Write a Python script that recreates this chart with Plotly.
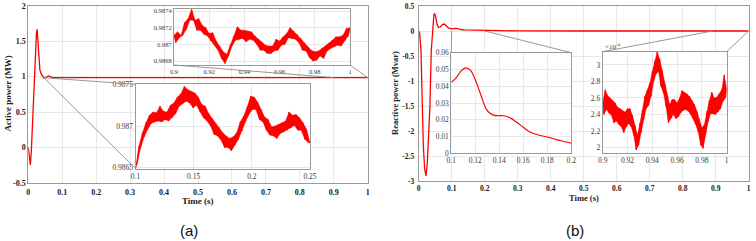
import plotly.graph_objects as go

W, H = 756, 241

# ---------------- data ----------------
# Panel (a): active power (MW), main view
t_a = [0, 0.003, 0.006, 0.009, 0.012, 0.015, 0.018, 0.021, 0.024, 0.026, 0.028,
       0.031, 0.034, 0.038, 0.042, 0.046, 0.05, 0.055, 0.06, 0.065, 0.07, 0.08,
       0.1, 0.25, 0.9, 1.0]
p_a = [0, -0.15, -0.25, -0.05, 0.3, 0.58, 0.95, 1.35, 1.62, 1.67, 1.48,
       1.25, 1.1, 1.04, 1.0, 0.98, 0.985, 1.0, 1.01, 1.0, 0.99, 0.987,
       0.9865, 0.9868, 0.9871, 0.9872]

# Panel (a) zoom 0.9-1 s
t_a_z1 = [round(0.9 + 0.001 * k, 4) for k in range(101)]
p_a_z1 = [0.98711, 0.98702, 0.98715, 0.98708, 0.98711, 0.98711, 0.98726, 0.98718, 0.98731, 0.98729,
          0.98742, 0.98729, 0.98729, 0.98717, 0.98731, 0.98717, 0.98723, 0.98712, 0.98720, 0.98710,
          0.98713, 0.98704, 0.98714, 0.98699, 0.98704, 0.98693, 0.98698, 0.98683, 0.98691, 0.98677,
          0.98688, 0.98686, 0.98700, 0.98698, 0.98710, 0.98705, 0.98721, 0.98706, 0.98717, 0.98707,
          0.98717, 0.98703, 0.98716, 0.98706, 0.98715, 0.98705, 0.98710, 0.98700, 0.98706, 0.98693,
          0.98702, 0.98693, 0.98699, 0.98689, 0.98698, 0.98689, 0.98698, 0.98692, 0.98706, 0.98693,
          0.98704, 0.98699, 0.98709, 0.98700, 0.98713, 0.98708, 0.98720, 0.98707, 0.98716, 0.98706,
          0.98712, 0.98702, 0.98707, 0.98693, 0.98702, 0.98692, 0.98697, 0.98684, 0.98693, 0.98680,
          0.98691, 0.98681, 0.98692, 0.98686, 0.98695, 0.98683, 0.98698, 0.98692, 0.98701, 0.98695,
          0.98705, 0.98697, 0.98709, 0.98699, 0.98709, 0.98698, 0.98711, 0.98704, 0.98719, 0.98710,
          0.98720]

# Panel (a) zoom 0.1-0.25 s
t_a_z2 = [round(0.1 + 0.0015 * k, 5) for k in range(101)]
p_a_z2 = [0.98649, 0.98655, 0.98676, 0.98674, 0.98692, 0.98687, 0.98704, 0.98696, 0.98713, 0.98703,
          0.98717, 0.98705, 0.98716, 0.98706, 0.98724, 0.98705, 0.98718, 0.98708, 0.98717, 0.98706,
          0.98725, 0.98710, 0.98728, 0.98715, 0.98735, 0.98724, 0.98739, 0.98727, 0.98748, 0.98730,
          0.98744, 0.98728, 0.98742, 0.98722, 0.98740, 0.98725, 0.98735, 0.98717, 0.98726, 0.98710,
          0.98724, 0.98706, 0.98715, 0.98700, 0.98709, 0.98690, 0.98703, 0.98688, 0.98698, 0.98683,
          0.98692, 0.98674, 0.98688, 0.98674, 0.98685, 0.98670, 0.98687, 0.98677, 0.98692, 0.98684,
          0.98705, 0.98694, 0.98712, 0.98705, 0.98723, 0.98714, 0.98736, 0.98720, 0.98735, 0.98720,
          0.98729, 0.98708, 0.98720, 0.98705, 0.98711, 0.98695, 0.98708, 0.98689, 0.98699, 0.98688,
          0.98700, 0.98685, 0.98702, 0.98691, 0.98704, 0.98693, 0.98706, 0.98695, 0.98717, 0.98698,
          0.98713, 0.98701, 0.98714, 0.98695, 0.98710, 0.98695, 0.98704, 0.98684, 0.98696, 0.98680,
          0.98680]

# Panel (b): reactive power (Mvar), main view
t_b = [0, 0.003, 0.007, 0.010, 0.014, 0.018, 0.022, 0.026, 0.030, 0.034, 0.038,
       0.042, 0.046, 0.048, 0.051, 0.055, 0.060, 0.065, 0.072, 0.078, 0.084, 0.090,
       0.1, 0.112, 0.121, 0.13, 0.14, 0.15, 0.165, 0.18, 0.2, 0.3, 0.5, 1.0]
q_b = [0, -0.05, -0.4, -1.6, -2.3, -2.75, -2.9, -2.65, -2.2, -1.5, -0.4,
       0.1, 0.32, 0.35, 0.3, 0.15, 0.07, 0.08, 0.13, 0.14, 0.1, 0.06,
       0.042, 0.051, 0.042, 0.025, 0.022, 0.021, 0.013, 0.009, 0.006, 0.002, 0.0005, 0.00026]

# Panel (b) zoom 0.1-0.2 s
t_b_z1 = [0.1, 0.104, 0.108, 0.112, 0.116, 0.121, 0.125, 0.129, 0.132, 0.135, 0.139,
          0.143, 0.148, 0.154, 0.16, 0.165, 0.17, 0.176, 0.182, 0.187, 0.193, 0.2]
q_b_z1 = [0.0423, 0.0450, 0.0490, 0.0510, 0.0495, 0.0420, 0.0340, 0.0265, 0.0240, 0.0228, 0.0224,
          0.0224, 0.0215, 0.0188, 0.0155, 0.0129, 0.0115, 0.0103, 0.0094, 0.0083, 0.0072, 0.0060]

# Panel (b) zoom 0.9-1 s (x 1e-4 Mvar)
t_b_z2 = [round(0.9 + 0.001 * k, 4) for k in range(101)]
q_b_z2_e4 = [2.54, 2.40, 2.70, 2.46, 2.63, 2.42, 2.60, 2.39, 2.57, 2.30,
             2.54, 2.32, 2.49, 2.28, 2.47, 2.25, 2.44, 2.18, 2.43, 2.25,
             2.47, 2.29, 2.47, 2.25, 2.39, 2.15, 2.27, 1.97, 2.15, 2.03,
             2.29, 2.18, 2.45, 2.34, 2.62, 2.47, 2.70, 2.51, 2.78, 2.62,
             2.92, 2.79, 3.05, 2.89, 3.16, 2.92, 3.07, 2.74, 2.93, 2.66,
             2.78, 2.50, 2.62, 2.30, 2.52, 2.35, 2.58, 2.40, 2.58, 2.35,
             2.54, 2.37, 2.60, 2.42, 2.69, 2.45, 2.67, 2.46, 2.65, 2.44,
             2.62, 2.40, 2.57, 2.35, 2.52, 2.28, 2.44, 2.19, 2.34, 2.03,
             2.24, 1.99, 2.28, 2.16, 2.44, 2.31, 2.57, 2.41, 2.67, 2.41,
             2.60, 2.40, 2.61, 2.43, 2.65, 2.47, 2.70, 2.56, 2.88, 2.60,
             2.71]

# ---------------- layout helpers ----------------
def dx(p0, p1):
    return [p0 / W, p1 / W]

def dy(top, bottom):
    return [1 - bottom / H, 1 - top / H]

# pixel boxes (left, right, top, bottom)
A_MAIN = (28.3, 367.7, 6, 182.7)
B_MAIN = (418.7, 748.7, 6, 181)
A_Z1 = (174, 350, 9, 65)
A_Z2 = (135.5, 310, 84.3, 168.5)
B_Z1 = (451.3, 571.3, 52.7, 153.3)
B_Z2 = (602.7, 726.7, 51.7, 153.3)

A_XR, A_YR = [0, 1], [-0.5, 2]
B_XR, B_YR = [0, 1], [-3, 0.5]

RED = "#ff0000"
SERIF = "Liberation Serif"
GRID = "#e8e8e8"
LINE = "#9a9a9a"

fig = go.Figure()
fig.add_trace(go.Scatter(x=t_a, y=p_a, mode="lines", line=dict(color=RED, width=1.3),
                         xaxis="x", yaxis="y"))
fig.add_trace(go.Scatter(x=t_b, y=q_b, mode="lines", line=dict(color=RED, width=1.3),
                         xaxis="x2", yaxis="y2"))


def noisy(t, v, xa, ya):
    # band between the alternating high (even) and low (odd) samples, plus the raw trace
    hi_t, hi_v = t[0::2], v[0::2]
    lo_t, lo_v = t[1::2], v[1::2]
    fig.add_trace(go.Scatter(x=hi_t + lo_t[::-1], y=hi_v + lo_v[::-1], mode="lines",
                             fill="toself", fillcolor=RED, line=dict(color=RED, width=0.4),
                             xaxis=xa, yaxis=ya, hoverinfo="skip"))
    fig.add_trace(go.Scatter(x=t, y=v, mode="lines", line=dict(color=RED, width=0.8),
                             xaxis=xa, yaxis=ya))

noisy(t_a_z1, p_a_z1, "x3", "y3")
noisy(t_a_z2, p_a_z2, "x4", "y4")
fig.add_trace(go.Scatter(x=t_b_z1, y=q_b_z1, mode="lines", line=dict(color=RED, width=1.2, shape="spline"),
                         xaxis="x5", yaxis="y5"))
noisy(t_b_z2, q_b_z2_e4, "x6", "y6")


def ax(domain, rng, size, bold, **kw):
    d = dict(domain=domain, range=rng, showgrid=True, gridcolor=GRID, gridwidth=0.7,
             showline=True, linecolor=LINE, linewidth=1, mirror=True, zeroline=False,
             ticks="",
             tickfont=dict(family=SERIF, size=size, color="#1a1a1a" if bold else "#3a3a3a",
                           weight=700 if bold else 400))
    d.update(kw)
    return d


def fmt(v):
    s = ("%.4f" % v).rstrip("0").rstrip(".")
    return s if s != "-0" else "0"

ya_ticks = [-0.5, 0, 0.5, 1, 1.5, 2]
yb_ticks = [-3, -2.5, -2, -1.5, -1, -0.5, 0, 0.5]
x_main_ticks = [0, 0.1, 0.2, 0.3, 0.4, 0.5, 0.6, 0.7, 0.8, 0.9, 1]
y3_ticks = [0.9868, 0.987, 0.9872, 0.9874]
x3_ticks = [0.9, 0.92, 0.94, 0.96, 0.98, 1]
y4_ticks = [0.9865, 0.987, 0.9875]
x4_ticks = [0.1, 0.15, 0.2, 0.25]
y5_ticks = [0, 0.01, 0.02, 0.03, 0.04, 0.05, 0.06]
x5_ticks = [0.1, 0.12, 0.14, 0.16, 0.18, 0.2]
y6_ticks = [2, 2.2, 2.4, 2.6, 2.8, 3]


def tk(vals):
    return dict(tickmode="array", tickvals=vals, ticktext=[fmt(v) for v in vals])

fig.update_layout(
    template="none",
    font=dict(family=SERIF, color="#222"),
    width=W, height=H, margin=dict(l=0, r=0, t=0, b=0),
    paper_bgcolor="white", plot_bgcolor="white", showlegend=False,
    xaxis=ax(dx(A_MAIN[0], A_MAIN[1]), A_XR, 8, True, anchor="y", ticklabelstandoff=2, **tk(x_main_ticks)),
    yaxis=ax(dy(A_MAIN[2], A_MAIN[3]), A_YR, 8, True, anchor="x", ticklabelstandoff=0, **tk(ya_ticks)),
    xaxis2=ax(dx(B_MAIN[0], B_MAIN[1]), B_XR, 7.5, True, anchor="y2", ticklabelstandoff=0, **tk(x_main_ticks)),
    yaxis2=ax(dy(B_MAIN[2], B_MAIN[3]), B_YR, 7.5, True, anchor="x2", ticklabelstandoff=2, **tk(yb_ticks)),
    xaxis3=ax(dx(A_Z1[0], A_Z1[1]), [0.9, 1.0], 6.5, False, anchor="y3", **tk(x3_ticks)),
    yaxis3=ax(dy(A_Z1[2], A_Z1[3]), [0.986752, 0.987424], 6.5, False, anchor="x3", **tk(y3_ticks)),
    xaxis4=ax(dx(A_Z2[0], A_Z2[1]), [0.1, 0.25], 7.5, False, anchor="y4", **tk(x4_ticks)),
    yaxis4=ax(dy(A_Z2[2], A_Z2[3]), [0.986486, 0.987505], 7.5, False, anchor="x4", **tk(y4_ticks)),
    xaxis5=ax(dx(B_Z1[0], B_Z1[1]), [0.1, 0.2], 7.5, False, anchor="y5", **tk(x5_ticks)),
    yaxis5=ax(dy(B_Z1[2], B_Z1[3]), [0, 0.06], 7.5, False, anchor="x5", **tk(y5_ticks)),
    xaxis6=ax(dx(B_Z2[0], B_Z2[1]), [0.9, 1.0], 7.5, False, anchor="y6", **tk(x3_ticks)),
    yaxis6=ax(dy(B_Z2[2], B_Z2[3]), [1.93, 3.16], 7.5, False, anchor="x6", **tk(y6_ticks)),
)


# ---------------- connector lines ----------------
def px_to_data(box, xr, yr, px, py):
    l, r, t, b = box
    x = xr[0] + (px - l) / (r - l) * (xr[1] - xr[0])
    y = yr[0] + (b - py) / (b - t) * (yr[1] - yr[0])
    return x, y


def connector(box, xr, yr, xref, yref, x0, y0, corner):
    x1, y1 = px_to_data(box, xr, yr, *corner)
    fig.add_shape(type="line", xref=xref, yref=yref, x0=x0, y0=y0, x1=x1, y1=y1,
                  line=dict(color="#8c8c8c", width=0.9), layer="above")

# panel (a)
connector(A_MAIN, A_XR, A_YR, "x", "y", 0.9, 0.987, (A_Z1[0], A_Z1[3]))
connector(A_MAIN, A_XR, A_YR, "x", "y", 1.0, 0.987, (A_Z1[1], A_Z1[3]))
connector(A_MAIN, A_XR, A_YR, "x", "y", 0.046, 0.985, (A_Z2[0], A_Z2[3]))
connector(A_MAIN, A_XR, A_YR, "x", "y", 0.046, 0.985, (A_Z2[0], A_Z2[2]))
# panel (b)
connector(B_MAIN, B_XR, B_YR, "x2", "y2", 0.1, 0.0, (B_Z1[0], B_Z1[2]))
connector(B_MAIN, B_XR, B_YR, "x2", "y2", 0.2, 0.0, (B_Z1[1], B_Z1[2]))
connector(B_MAIN, B_XR, B_YR, "x2", "y2", 0.89, 0.0, (B_Z2[0], B_Z2[2]))
connector(B_MAIN, B_XR, B_YR, "x2", "y2", 1.0, 0.0, (B_Z2[1], B_Z2[2]))

# ---------------- text ----------------
def note(text, px, py, size, family=SERIF, bold=True, angle=0, color="#222", xanchor="center"):
    fig.add_annotation(text=text, x=px / W, y=1 - py / H, xref="paper", yref="paper",
                       showarrow=False, textangle=angle, xanchor=xanchor, yanchor="middle",
                       font=dict(family=family, size=size, color=color,
                                 weight=700 if bold else 400))

note("Time (s)", 198, 200.7, 9)
note("Active power (MW)", 7.5, 94, 9, angle=-90)
note("Time (s)", 583.7, 198.3, 8.5)
note("Reactive power (Mvar)", 395.5, 93.5, 8.5, angle=-90)
note("×10<sup>-4</sup>", 603, 46.5, 7, bold=False, color="#3a3a3a", xanchor="left")
note("(a)", 188.5, 230.5, 15, family="Liberation Sans", bold=False, color="#111")
note("(b)", 575.3, 230.5, 15, family="Liberation Sans", bold=False, color="#111")

fig.write_html("out.html")
